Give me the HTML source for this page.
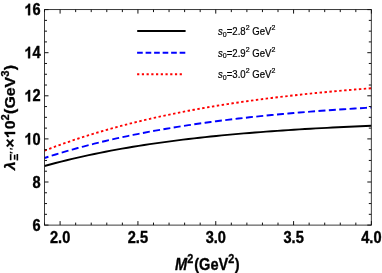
<!DOCTYPE html>
<html><head><meta charset="utf-8"><style>
html,body{margin:0;padding:0;background:#fff;}
svg{display:block;will-change:transform}
text{font-family:"Liberation Sans",sans-serif;fill:#000}
.tl text{font-size:14.6px;font-weight:bold;stroke:#000;stroke-width:0.35px}
.lg text{font-size:9.6px;stroke:#000;stroke-width:0.2px}
.al text{font-size:14.6px;font-weight:bold;stroke:#000;stroke-width:0.3px}
.al .i{font-style:italic}
.al .s{font-size:10.3px}
</style></head><body>
<svg width="382" height="273" viewBox="0 0 382 273">
<rect width="382" height="273" fill="#fff"/>
<g fill="none" stroke-linecap="butt" transform="scale(1,1.09)">
<path d="M44.50,152.31 L50.04,150.91 L55.58,149.56 L61.12,148.26 L66.66,146.99 L72.19,145.77 L77.73,144.59 L83.27,143.44 L88.81,142.33 L94.35,141.26 L99.89,140.22 L105.43,139.22 L110.97,138.25 L116.51,137.31 L122.05,136.40 L127.58,135.52 L133.12,134.67 L138.66,133.84 L144.20,133.05 L149.74,132.28 L155.28,131.53 L160.82,130.81 L166.36,130.11 L171.90,129.43 L177.44,128.78 L182.97,128.15 L188.51,127.53 L194.05,126.94 L199.59,126.37 L205.13,125.81 L210.67,125.27 L216.21,124.75 L221.75,124.25 L227.29,123.77 L232.83,123.29 L238.36,122.84 L243.90,122.40 L249.44,121.97 L254.98,121.56 L260.52,121.16 L266.06,120.77 L271.60,120.40 L277.14,120.04 L282.68,119.69 L288.22,119.35 L293.75,119.02 L299.29,118.70 L304.83,118.40 L310.37,118.10 L315.91,117.81 L321.45,117.54 L326.99,117.27 L332.53,117.01 L338.07,116.75 L343.61,116.51 L349.14,116.28 L354.68,116.05 L360.22,115.83 L365.76,115.61 L371.30,115.41" stroke="#000" stroke-width="1.72"/>
<path d="M44.50,144.95 L50.04,143.31 L55.58,141.72 L61.12,140.18 L66.66,138.68 L72.19,137.22 L77.73,135.81 L83.27,134.44 L88.81,133.11 L94.35,131.82 L99.89,130.56 L105.43,129.34 L110.97,128.16 L116.51,127.01 L122.05,125.90 L127.58,124.82 L133.12,123.77 L138.66,122.75 L144.20,121.76 L149.74,120.80 L155.28,119.87 L160.82,118.97 L166.36,118.09 L171.90,117.24 L177.44,116.41 L182.97,115.60 L188.51,114.83 L194.05,114.07 L199.59,113.33 L205.13,112.62 L210.67,111.93 L216.21,111.26 L221.75,110.60 L227.29,109.97 L232.83,109.36 L238.36,108.76 L243.90,108.18 L249.44,107.62 L254.98,107.07 L260.52,106.54 L266.06,106.03 L271.60,105.53 L277.14,105.04 L282.68,104.57 L288.22,104.12 L293.75,103.67 L299.29,103.24 L304.83,102.83 L310.37,102.42 L315.91,102.03 L321.45,101.64 L326.99,101.27 L332.53,100.91 L338.07,100.56 L343.61,100.23 L349.14,99.90 L354.68,99.58 L360.22,99.27 L365.76,98.96 L371.30,98.67" stroke="#0000ff" stroke-width="1.72" stroke-dasharray="7.0,3.4" stroke-dashoffset="2.9"/>
<path d="M44.50,138.21 L50.04,136.26 L55.58,134.36 L61.12,132.52 L66.66,130.72 L72.19,128.98 L77.73,127.28 L83.27,125.63 L88.81,124.02 L94.35,122.46 L99.89,120.94 L105.43,119.47 L110.97,118.03 L116.51,116.63 L122.05,115.28 L127.58,113.96 L133.12,112.67 L138.66,111.42 L144.20,110.21 L149.74,109.03 L155.28,107.88 L160.82,106.76 L166.36,105.68 L171.90,104.62 L177.44,103.59 L182.97,102.59 L188.51,101.62 L194.05,100.68 L199.59,99.76 L205.13,98.87 L210.67,98.00 L216.21,97.15 L221.75,96.33 L227.29,95.53 L232.83,94.75 L238.36,94.00 L243.90,93.26 L249.44,92.55 L254.98,91.85 L260.52,91.18 L266.06,90.52 L271.60,89.88 L277.14,89.26 L282.68,88.66 L288.22,88.07 L293.75,87.50 L299.29,86.94 L304.83,86.40 L310.37,85.87 L315.91,85.36 L321.45,84.87 L326.99,84.38 L332.53,83.91 L338.07,83.45 L343.61,83.01 L349.14,82.58 L354.68,82.16 L360.22,81.75 L365.76,81.35 L371.30,80.96" stroke="#ff0000" stroke-width="1.72" stroke-dasharray="2.45,2.478"/>
</g>
<rect x="44.5" y="9.6" width="326.8" height="215.5" fill="none" stroke="#1a1a1a" stroke-width="0.85"/>
<g stroke="#111" stroke-width="1" fill="none"><path d="M44.53,225.1 v-2.5 M44.53,9.6 v2.5"/><path d="M60.10,225.1 v-4 M60.10,9.6 v4"/><path d="M75.67,225.1 v-2.5 M75.67,9.6 v2.5"/><path d="M91.23,225.1 v-2.5 M91.23,9.6 v2.5"/><path d="M106.79,225.1 v-2.5 M106.79,9.6 v2.5"/><path d="M122.36,225.1 v-2.5 M122.36,9.6 v2.5"/><path d="M137.93,225.1 v-4 M137.93,9.6 v4"/><path d="M153.49,225.1 v-2.5 M153.49,9.6 v2.5"/><path d="M169.06,225.1 v-2.5 M169.06,9.6 v2.5"/><path d="M184.62,225.1 v-2.5 M184.62,9.6 v2.5"/><path d="M200.18,225.1 v-2.5 M200.18,9.6 v2.5"/><path d="M215.75,225.1 v-4 M215.75,9.6 v4"/><path d="M231.32,225.1 v-2.5 M231.32,9.6 v2.5"/><path d="M246.88,225.1 v-2.5 M246.88,9.6 v2.5"/><path d="M262.44,225.1 v-2.5 M262.44,9.6 v2.5"/><path d="M278.01,225.1 v-2.5 M278.01,9.6 v2.5"/><path d="M293.58,225.1 v-4 M293.58,9.6 v4"/><path d="M309.14,225.1 v-2.5 M309.14,9.6 v2.5"/><path d="M324.71,225.1 v-2.5 M324.71,9.6 v2.5"/><path d="M340.27,225.1 v-2.5 M340.27,9.6 v2.5"/><path d="M355.84,225.1 v-2.5 M355.84,9.6 v2.5"/><path d="M371.40,225.1 v-4 M371.40,9.6 v4"/><path d="M44.5,225.10 h4 M371.3,225.10 h-4"/><path d="M44.5,214.32 h2.5 M371.3,214.32 h-2.5"/><path d="M44.5,203.55 h2.5 M371.3,203.55 h-2.5"/><path d="M44.5,192.77 h2.5 M371.3,192.77 h-2.5"/><path d="M44.5,182.00 h4 M371.3,182.00 h-4"/><path d="M44.5,171.22 h2.5 M371.3,171.22 h-2.5"/><path d="M44.5,160.45 h2.5 M371.3,160.45 h-2.5"/><path d="M44.5,149.68 h2.5 M371.3,149.68 h-2.5"/><path d="M44.5,138.90 h4 M371.3,138.90 h-4"/><path d="M44.5,128.12 h2.5 M371.3,128.12 h-2.5"/><path d="M44.5,117.35 h2.5 M371.3,117.35 h-2.5"/><path d="M44.5,106.57 h2.5 M371.3,106.57 h-2.5"/><path d="M44.5,95.80 h4 M371.3,95.80 h-4"/><path d="M44.5,85.02 h2.5 M371.3,85.02 h-2.5"/><path d="M44.5,74.25 h2.5 M371.3,74.25 h-2.5"/><path d="M44.5,63.47 h2.5 M371.3,63.47 h-2.5"/><path d="M44.5,52.70 h4 M371.3,52.70 h-4"/><path d="M44.5,41.92 h2.5 M371.3,41.92 h-2.5"/><path d="M44.5,31.15 h2.5 M371.3,31.15 h-2.5"/><path d="M44.5,20.38 h2.5 M371.3,20.38 h-2.5"/><path d="M44.5,9.60 h4 M371.3,9.60 h-4"/></g>
<g opacity="0.999">
<g class="tl"><text transform="translate(60.1,242.7) scale(1,1.09)" text-anchor="middle">2.0</text><text transform="translate(137.9,242.7) scale(1,1.09)" text-anchor="middle">2.5</text><text transform="translate(215.8,242.7) scale(1,1.09)" text-anchor="middle">3.0</text><text transform="translate(293.6,242.7) scale(1,1.09)" text-anchor="middle">3.5</text><text transform="translate(371.4,242.7) scale(1,1.09)" text-anchor="middle">4.0</text><g transform="translate(40.6,230.7) scale(1,1.09)"><text x="-8.12" y="0">6</text></g><g transform="translate(40.6,187.6) scale(1,1.09)"><text x="-8.12" y="0">8</text></g><g transform="translate(40.6,144.5) scale(1,1.09)"><path transform="translate(-16.24,0) scale(0.007129,-0.007129)" d="M806 0H525V1059Q371 915 162 846V1101Q272 1137 401 1237.5Q530 1338 578 1472H806Z" fill="#000" stroke="#000" stroke-width="49.1"/><text x="-8.12" y="0">0</text></g><g transform="translate(40.6,101.4) scale(1,1.09)"><path transform="translate(-16.24,0) scale(0.007129,-0.007129)" d="M806 0H525V1059Q371 915 162 846V1101Q272 1137 401 1237.5Q530 1338 578 1472H806Z" fill="#000" stroke="#000" stroke-width="49.1"/><text x="-8.12" y="0">2</text></g><g transform="translate(40.6,58.3) scale(1,1.09)"><path transform="translate(-16.24,0) scale(0.007129,-0.007129)" d="M806 0H525V1059Q371 915 162 846V1101Q272 1137 401 1237.5Q530 1338 578 1472H806Z" fill="#000" stroke="#000" stroke-width="49.1"/><text x="-8.12" y="0">4</text></g><g transform="translate(40.6,15.2) scale(1,1.09)"><path transform="translate(-16.24,0) scale(0.007129,-0.007129)" d="M806 0H525V1059Q371 915 162 846V1101Q272 1137 401 1237.5Q530 1338 578 1472H806Z" fill="#000" stroke="#000" stroke-width="49.1"/><text x="-8.12" y="0">6</text></g></g>
<g fill="none">
<path d="M137.2,31 H185.6" stroke="#000" stroke-width="1.9"/>
<path d="M137.1,52.7 H185.6" stroke="#0000ff" stroke-width="1.9" stroke-dasharray="5.65,2.86"/>
<path d="M137.1,74.2 H184" stroke="#ff0000" stroke-width="1.9" stroke-dasharray="2.2,2.53"/>
</g>
<g class="lg">
<text transform="translate(218,35.3) scale(1,1.09)"><tspan font-style="italic">s</tspan><tspan font-size="7" dy="1.5">0</tspan><tspan dy="-1.5">=2.8</tspan><tspan font-size="7" dy="-4.6">2</tspan><tspan dy="4.6"> GeV</tspan><tspan font-size="7" dy="-4.6">2</tspan></text><text transform="translate(218,56.7) scale(1,1.09)"><tspan font-style="italic">s</tspan><tspan font-size="7" dy="1.5">0</tspan><tspan dy="-1.5">=2.9</tspan><tspan font-size="7" dy="-4.6">2</tspan><tspan dy="4.6"> GeV</tspan><tspan font-size="7" dy="-4.6">2</tspan></text><text transform="translate(218,78.1) scale(1,1.09)"><tspan font-style="italic">s</tspan><tspan font-size="7" dy="1.5">0</tspan><tspan dy="-1.5">=3.0</tspan><tspan font-size="7" dy="-4.6">2</tspan><tspan dy="4.6"> GeV</tspan><tspan font-size="7" dy="-4.6">2</tspan></text>
</g>
<g class="al">
<text transform="translate(175,270.4) scale(1,1.09)"><tspan class="i">M</tspan><tspan class="s" style="font-size:10.9px" dy="-6.6">2</tspan><tspan dy="6.6" dx="1">(GeV</tspan><tspan class="s" style="font-size:10.9px" dy="-6.6">2</tspan><tspan dy="6.6" dx="0.3">)</tspan></text>
<g transform="translate(15.1,170.4) rotate(-90) scale(1.09,1)">
<text x="0.28" y="0" class="i" style="font-size:13.9px">λ</text>
<text x="8.90" y="2.6" class="s" style="font-size:10.2px">Ξ</text>
<text x="15.32" y="1.0" class="s" style="font-size:8.6px">′</text>
<text x="18.81" y="1.0" class="s" style="font-size:8.6px">′</text>
<text x="20.83" y="0">×</text>
<g transform="translate(29.54,0)"><path transform="translate(0.00,0) scale(0.007129,-0.007129)" d="M806 0H525V1059Q371 915 162 846V1101Q272 1137 401 1237.5Q530 1338 578 1472H806Z" fill="#000" stroke="#000" stroke-width="42.1"/></g><text x="37.66" y="0">0</text>
<text x="45.69" y="-6.6" class="s">2</text>
<text x="51.83" y="0">(GeV</text>
<text x="85.96" y="-6.6" class="s">3</text>
<text x="91.93" y="0">)</text>
</g>
</g>
</g>
</svg>
</body></html>
